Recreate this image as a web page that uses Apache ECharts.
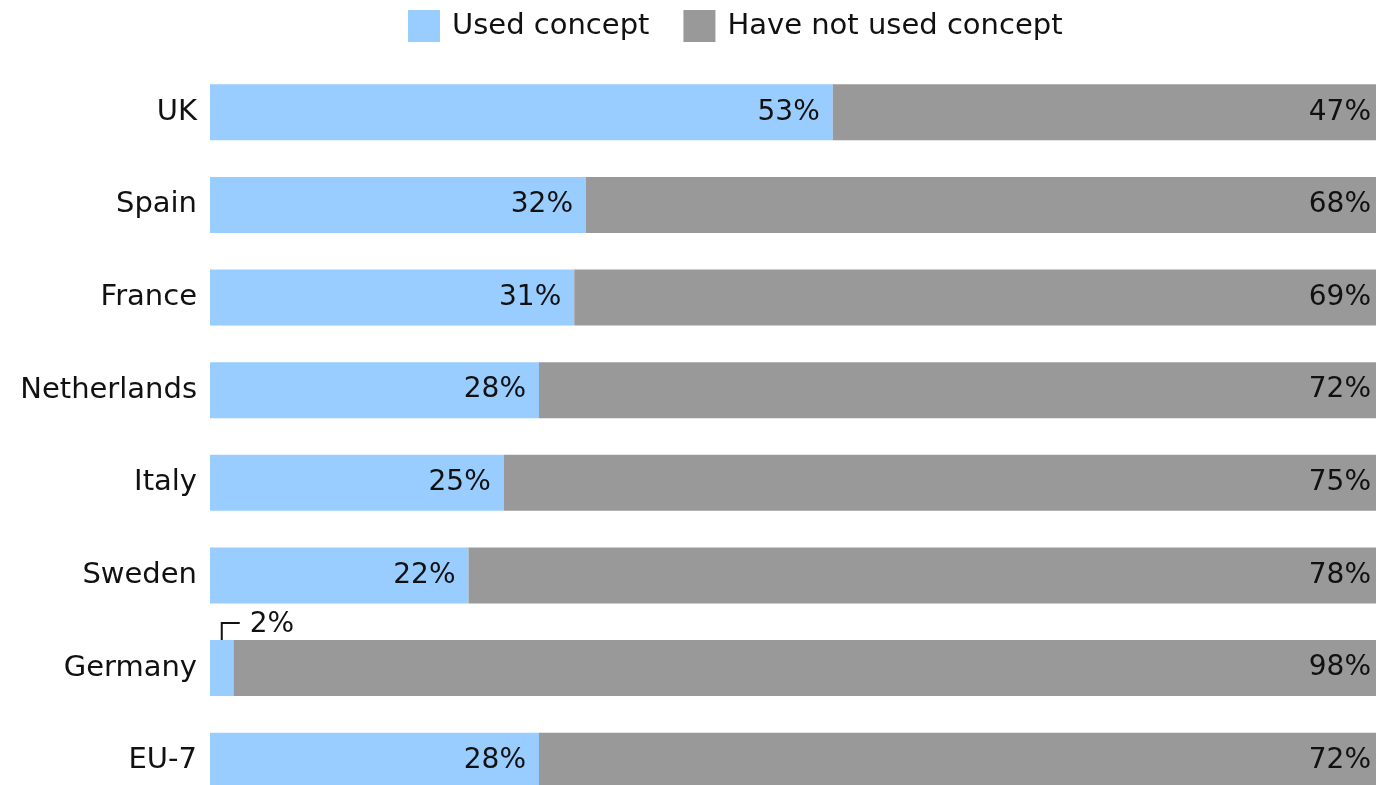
<!DOCTYPE html>
<html><head><meta charset="utf-8">
<script src="https://cdn.jsdelivr.net/npm/echarts@6/dist/echarts.min.js"></script>
<style>html,body{margin:0;padding:0;background:#fff}#c{width:1376px;height:785px}</style>
</head><body><div id="c"></div>
<script>
const categories = ["UK","Spain","France","Netherlands","Italy","Sweden","Germany","EU-7"];
const usedConcept = [53,32,31,28,25,22,2,28];
const notUsedConcept = [47,68,69,72,75,78,98,72];
const seriesNames = ["Used concept","Have not used concept"];

(function(){
const FONT = "DejaVu Sans";
const FS = 28;
const chart = echarts.init(document.getElementById('c'));
const option = {
  animation:false,
  textStyle:{fontFamily:FONT},
  legend:{
    top:10, left:408, padding:0, itemWidth:32, itemHeight:32, itemGap:34,
    icon:'rect',
    textStyle:{fontSize:29, color:'#111', fontFamily:FONT, padding:[0,0,0,7]},
    data:seriesNames
  },
  grid:{left:210, right:-9, top:66, height:741, containLabel:false, outerBoundsMode:'none'},
  xAxis:{type:'value', min:0, max:100, show:false},
  yAxis:{type:'category', data:categories, inverse:true,
    axisLine:{show:false}, axisTick:{show:false},
    axisLabel:{fontSize:29, color:'#111', margin:13, fontFamily:FONT}},
  series:[
    {name:seriesNames[0], type:'bar', stack:'t', barWidth:56,
     itemStyle:{color:'#99CCFF'},
     data:usedConcept.map((v,i)=> i===6 ? {value:v, label:{show:false}} : v),
     label:{show:true, position:'insideRight', distance:13, formatter:'{c}%', fontSize:FS, color:'#111', fontFamily:FONT}},
    {name:seriesNames[1], type:'bar', stack:'t', barWidth:56,
     itemStyle:{color:'#999999'},
     data:notUsedConcept,
     label:{show:true, position:'insideRight', distance:14, formatter:'{c}%', fontSize:FS, color:'#111', fontFamily:FONT}}
  ]
};
chart.setOption(option);
const gi = 6;
const pBase = chart.convertToPixel({gridIndex:0}, [0, categories[gi]]);
const pEnd = chart.convertToPixel({gridIndex:0}, [usedConcept[gi], categories[gi]]);
const lx = (pBase[0]+pEnd[0])/2;
const yTop = pBase[1]-28;
chart.setOption({graphic:[
  {type:'polyline', shape:{points:[[lx,yTop],[lx,yTop-17],[lx+18,yTop-17]]}, style:{stroke:'#111', lineWidth:2, fill:null}},
  {type:'text', x:lx+28, y:yTop-15, style:{text:usedConcept[gi]+'%', font:FS+'px "'+FONT+'"', fill:'#111', verticalAlign:'middle'}}
]});
})();
</script></body></html>
